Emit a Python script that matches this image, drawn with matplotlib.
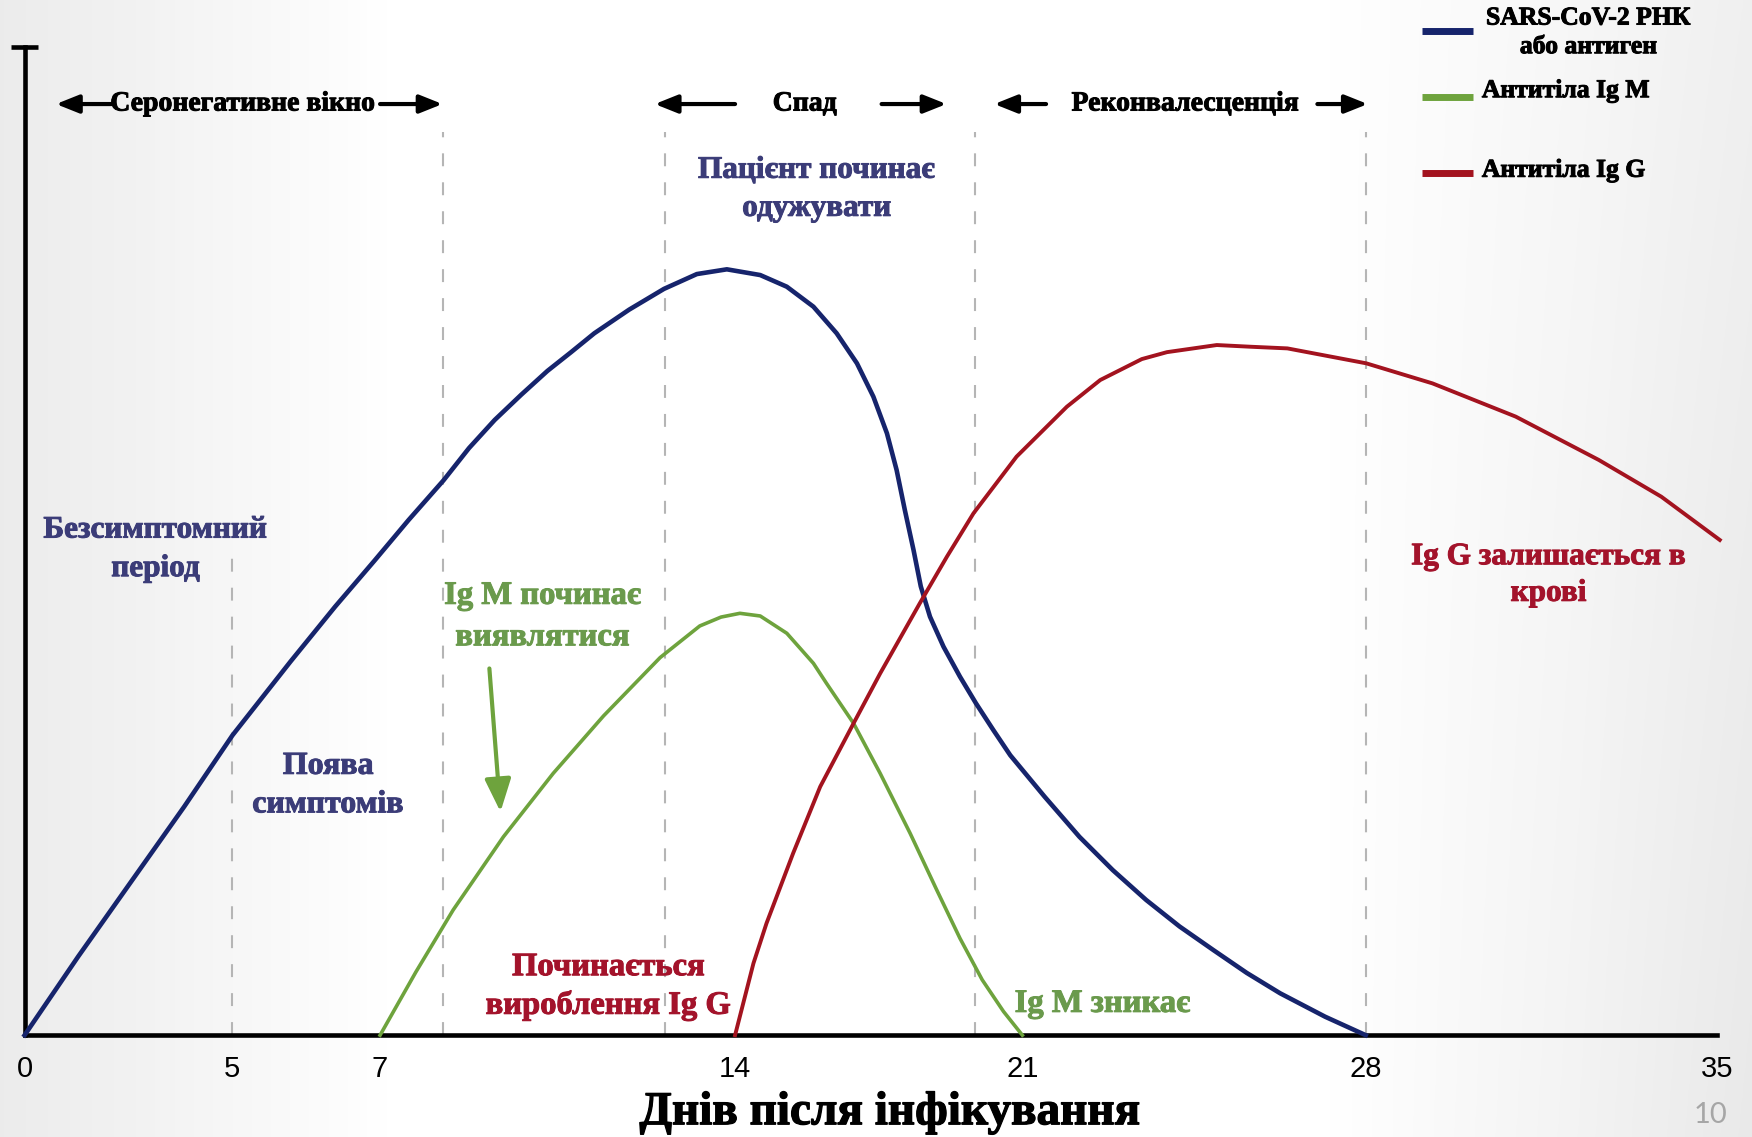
import numpy as np
import matplotlib
matplotlib.use("Agg")
import matplotlib.pyplot as plt
import matplotlib.patheffects as pe
from matplotlib.ticker import FixedLocator

plt.rcParams['font.family'] = ['Liberation Serif', 'DejaVu Serif']

# ---- дані ----
# поділки стоять на осі нерівномірно, тому позиції взято як на малюнку
tick_pos = [0, 4.29, 7.35, 14.69, 20.63, 27.73, 35.0]
tick_labels = ['0', '5', '7', '14', '21', '28', '35']
tick_marks = [7.35, 14.69, 20.63, 27.73, 35.0]

dash_x = [4.29, 8.66, 13.24, 19.66, 27.73]
dash_top = [49.3, 91.4, 91.4, 91.4, 91.4]

# SARS-CoV-2 РНК або антиген
rna_x = [0.00, 1.11, 2.22, 3.30, 4.30, 5.50, 6.42, 7.23, 7.94, 8.66, 9.19, 9.72,
         10.27, 10.81, 11.30, 11.78, 12.50, 12.86, 13.22, 13.90, 14.52, 15.21,
         15.76, 16.31, 16.79, 17.21, 17.55, 17.83, 18.03, 18.20, 18.38, 18.53,
         18.72, 19.00, 19.34, 19.67, 20.03, 20.38, 21.09, 21.81, 22.50, 23.19,
         23.88, 24.58, 25.27, 25.96, 26.89, 27.73]
rna_y = [0.00, 7.97, 15.65, 23.12, 30.35, 37.81, 43.35, 47.98, 52.12, 56.12, 59.40, 62.24,
         64.80, 67.20, 69.10, 71.01, 73.40, 74.45, 75.50, 77.00, 77.48, 76.90,
         75.72, 73.70, 71.01, 67.97, 64.59, 60.89, 57.18, 53.13, 49.08, 45.40,
         42.34, 39.30, 36.27, 33.58, 30.87, 28.32, 24.13, 20.07, 16.70, 13.68,
         11.00, 8.61, 6.30, 4.24, 1.87, 0.00]

# Антитіла Ig M
igm_x = [7.35, 8.09, 8.86, 9.90, 10.93, 11.97, 13.14, 13.96, 14.40, 14.79,
         15.21, 15.76, 16.31, 16.58, 17.14, 17.69, 18.31, 18.86, 19.34, 19.80,
         20.24, 20.63]
igm_y = [0.00, 6.39, 12.66, 20.07, 26.49, 32.30, 38.20, 41.40, 42.30, 42.68,
         42.41, 40.66, 37.62, 35.60, 31.55, 26.49, 20.42, 14.69, 9.80, 5.60,
         2.40, 0.00]

# Антитіла Ig G
igg_x = [14.69, 15.07, 15.34, 15.89, 16.45, 17.14, 17.69, 18.51, 19.07, 19.62,
         20.51, 21.55, 22.24, 23.10, 23.62, 24.65, 25.34, 26.11, 27.74, 29.11,
         30.83, 32.55, 33.84, 35.05]
igg_y = [0.00, 7.27, 11.32, 18.40, 25.14, 31.55, 36.60, 43.70, 48.41, 52.80,
         58.53, 63.58, 66.28, 68.40, 69.10, 69.82, 69.65, 69.48, 67.97, 65.94,
         62.58, 58.19, 54.48, 50.10]

blue = '#16246c'
green = '#6ea33d'
red = '#a3131f'
navy_txt = '#3b3c78'
green_txt = '#6a9a4c'
red_txt = '#a3132b'

fig = plt.figure(figsize=(17.52, 11.37), dpi=100)

# світло-сірий фон слайда
bg = fig.add_axes([0, 0, 1, 1], zorder=-5)
gx = np.linspace(0, 1, 600)
gy = np.linspace(0, 1, 300)
GX, GY = np.meshgrid(gx, gy)
shade = np.interp(GX, [0, 0.08, 0.22, 0.76, 0.90, 1.0],
                  [0.925, 0.95, 1.0, 1.0, 0.968, 0.94])
shade = shade - 0.025 * GY * np.clip((GX - 0.76) / 0.24, 0, 1)
bg.imshow(np.dstack([shade] * 3), extent=[0, 1, 0, 1], aspect='auto', origin='upper')
bg.axis('off')

ax = fig.add_axes([0.01403, 0.08953, 0.98277, 0.86939])
ax.set_facecolor('none')
ax.set_xlim(0, 35.6)
ax.set_ylim(0, 100)

for s in ['top', 'right']:
    ax.spines[s].set_visible(False)
ax.spines['left'].set_linewidth(3.3)
ax.spines['bottom'].set_linewidth(3.3)
ax.spines['left'].set_bounds(0, 100)
ax.spines['bottom'].set_bounds(0, 35)
ax.plot([-0.28, 0.28], [100, 100], color='black', lw=3.3, clip_on=False,
        solid_capstyle='butt')

ax.set_yticks([])
ax.set_xticks(tick_pos)
ax.set_xticklabels(tick_labels, family='Liberation Sans', fontsize=21)
ax.tick_params(axis='x', which='major', length=0, pad=14)
ax.xaxis.set_minor_locator(FixedLocator(tick_marks))
ax.tick_params(axis='x', which='minor', direction='inout', length=18, width=2.4)

heavy = [pe.withStroke(linewidth=0.9, foreground='black')]
fig.text(890 / 1752, 1 - 1113 / 1137, 'Днів після інфікування', fontsize=34,
         fontweight='bold', ha='center', va='center', path_effects=heavy)

# пунктирні межі періодів
ax.vlines(dash_x, 0, dash_top, colors='#b5b5b5', linestyles=(0, (6.2, 7.7)),
          lw=1.5, zorder=1)

# криві
ax.plot(rna_x, rna_y, color=blue, lw=3.3, clip_on=False, zorder=3,
        solid_joinstyle='round')
ax.plot(igm_x, igm_y, color=green, lw=2.6, clip_on=False, zorder=3,
        solid_joinstyle='round')
ax.plot(igg_x, igg_y, color=red, lw=2.8, clip_on=False, zorder=4,
        solid_joinstyle='round')


def txt(x, y, s, color, size, ha='center'):
    ax.text(x, y, s, color=color, fontsize=size, fontweight='bold', ha=ha,
            va='center', clip_on=False, zorder=5,
            path_effects=[pe.withStroke(linewidth=0.7, foreground=color)])


def arrow(x0, x1, y=94.2):
    ax.annotate('', xy=(x1, y), xytext=(x0, y), annotation_clip=False,
                arrowprops=dict(arrowstyle='-|>,head_length=0.55,head_width=0.22',
                                color='black', lw=3, mutation_scale=25,
                                shrinkA=0, shrinkB=0))


# фази
txt(4.51, 94.2, 'Серонегативне вікно', 'black', 20)
arrow(1.80, 0.65)
arrow(7.35, 8.64)
txt(16.13, 94.2, 'Спад', 'black', 20)
arrow(14.69, 13.03)
arrow(17.72, 19.06)
txt(24.0, 94.2, 'Реконвалесценція', 'black', 20)
arrow(21.12, 20.05)
arrow(26.73, 27.77)

# підписи
txt(16.38, 87.5, 'Пацієнт починає', navy_txt, 22.5)
txt(16.38, 83.65, 'одужувати', navy_txt, 22.5)
txt(2.71, 51.1, 'Безсимптомний', navy_txt, 22.5)
txt(2.71, 47.2, 'період', navy_txt, 22.5)
txt(6.28, 27.2, 'Поява', navy_txt, 23)
txt(6.28, 23.3, 'симптомів', navy_txt, 23)
txt(10.71, 44.5, 'Ig M починає', green_txt, 23.5)
txt(10.71, 40.3, 'виявлятися', green_txt, 23.5)
txt(12.07, 6.93, 'Починається', red_txt, 23.5)
txt(12.07, 3.05, 'вироблення Ig G', red_txt, 23.5)
txt(20.47, 3.22, 'Ig M зникає', green_txt, 23.5, ha='left')
txt(31.51, 48.4, 'Ig G залишається в', red_txt, 22.5)
txt(31.51, 44.7, 'крові', red_txt, 22.5)

ax.annotate('', xy=(9.84, 22.6), xytext=(9.61, 37.1), annotation_clip=False,
            arrowprops=dict(arrowstyle='-|>,head_length=0.5,head_width=0.2',
                            color=green, lw=3, mutation_scale=40,
                            shrinkA=0, shrinkB=0))

# легенда
leg_y = [101.6, 94.9, 87.2]
for yy, c in zip(leg_y, [blue, green, red]):
    ax.plot([28.9, 29.94], [yy, yy], color=c, lw=5, clip_on=False,
            solid_capstyle='butt')
txt(32.34, 102.9, 'SARS-CoV-2 РНК', 'black', 18.5)
txt(32.34, 100.0, 'або антиген', 'black', 18.5)
txt(30.13, 95.55, 'Антитіла Ig M', 'black', 18.5, ha='left')
txt(30.13, 87.5, 'Антитіла Ig G', 'black', 18.5, ha='left')

# номер слайда
fig.text(1711 / 1752, 1 - 1115 / 1137, '10', family='Lato', fontsize=21,
         color='#a6a6a6', ha='center', va='center')

fig.savefig('out.png', dpi=100)
